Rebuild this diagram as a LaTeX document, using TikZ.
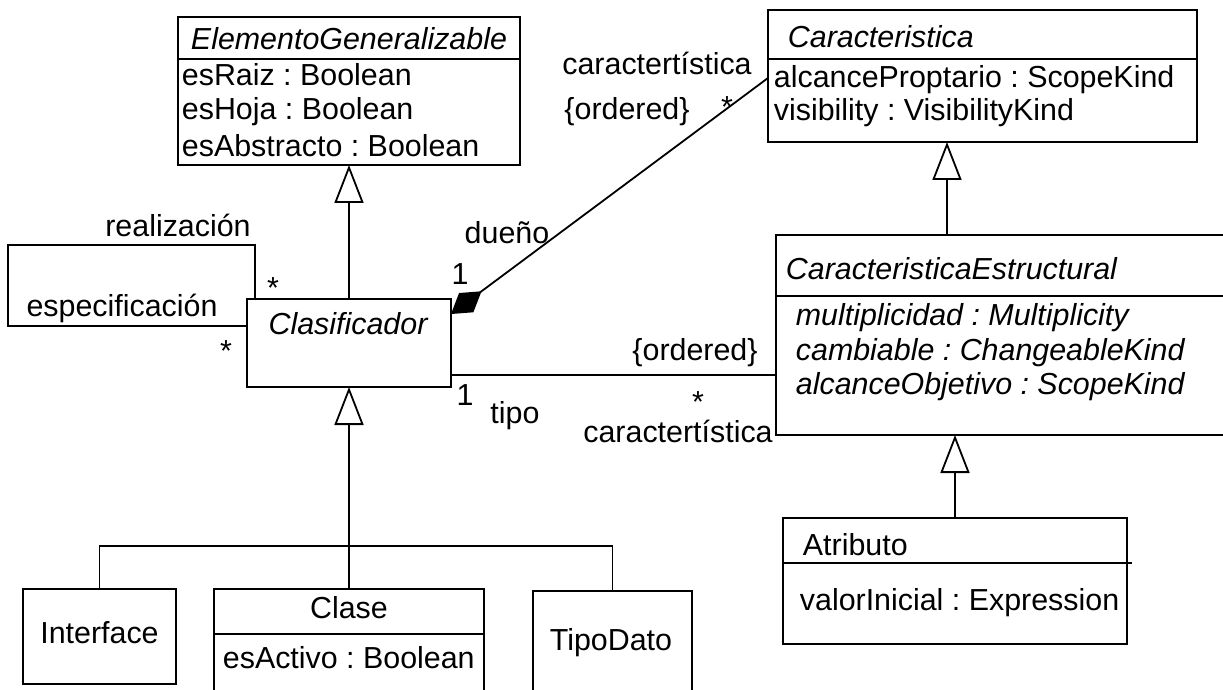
\documentclass[tikz,border=0pt]{standalone}
\usepackage{fontspec}
\setmainfont{Liberation Sans}
\usetikzlibrary{arrows.meta}

\tikzset{
  cls/.style={draw, rectangle, inner sep=0pt, outer sep=0pt},
  txt/.style={inner sep=0pt, anchor=base, font=\fontsize{15.2}{18}\selectfont},
  gen/.style={-{Triangle[open, length=19pt, width=14.5pt]}},
  comp/.style={-{Diamond[length=19pt, width=12pt]}},
}

\begin{document}
\frenchspacing
\begin{tikzpicture}[x=0.5pt, y=-0.5pt, line width=0.9pt]
\useasboundingbox (0,0) rectangle (1223,690);
\clip (0,0) rectangle (1223,690);

\node [cls, minimum width=171pt, minimum height=74pt] (v1) at (349,91) {};
\node [cls, minimum width=214.5pt, minimum height=66pt] (v2) at (982.5,76) {};
\node [cls, minimum width=102pt, minimum height=44pt] (v3) at (349,343) {};
\node [cls, minimum width=227pt, minimum height=100pt] (v4) at (1003,335) {};
\node [cls, minimum width=172pt, minimum height=63pt] (v5) at (955,581) {};
\node [cls, minimum width=76.5pt, minimum height=47.5pt] (v6) at (99.5,636.5) {};
\node [cls, minimum width=135pt, minimum height=65.5pt] (v7) at (349,654.5) {};
\node [cls, minimum width=79.5pt, minimum height=64.5pt] (v8) at (612.5,655.5) {};
\draw  (v1.west |- 0,59) -- (v1.east |- 0,59);
\draw  (v2.west |- 0,59) -- (v2.east |- 0,59);
\draw  (v4.west |- 0,296) -- (v4.east |- 0,296);
\draw  (v5.west |- 0,563) -- (1132,563);
\draw  (v7.west |- 0,634) -- (v7.east |- 0,634);

\node [txt] (t1) at (349,50) {\itshape ElementoGeneralizable};
\node [txt, anchor=base west] (t2) at (181,86) {esRaiz : Boolean};
\node [txt, anchor=base west] (t3) at (181,120) {esHoja : Boolean};
\node [txt, anchor=base west] (t4) at (181,157) {esAbstracto : Boolean};
\node [txt, anchor=base west] (t5) at (787,48) {\itshape Caracteristica};
\node [txt, anchor=base west] (t6) at (773,88) {alcanceProptario : ScopeKind};
\node [txt, anchor=base west] (t7) at (773,121) {visibility : VisibilityKind};
\node [txt] (t8) at (348,335) {\itshape Clasificador};
\node [txt, anchor=base west] (t9) at (785,280) {\itshape CaracteristicaEstructural};
\node [txt, anchor=base west] (t10) at (795,326) {\itshape multiplicidad : Multiplicity};
\node [txt, anchor=base west] (t11) at (795,360) {\itshape cambiable : ChangeableKind};
\node [txt, anchor=base west] (t12) at (795,394) {\itshape alcanceObjetivo : ScopeKind};
\node [txt, anchor=base west] (t13) at (802,555) {Atributo};
\node [txt, anchor=base west] (t14) at (799,610) {valorInicial : Expression};
\node [txt] (t15) at (99.5,643) {Interface};
\node [txt] (t16) at (349,618) {Clase};
\node [txt, anchor=base west] (t17) at (222,668) {esActivo : Boolean};
\node [txt] (t18) at (611,650) {TipoDato};

\node [txt] (l1) at (178,237) {realización};
\node [txt] (l2) at (273,299) {*};
\node [txt] (l3) at (122,317) {especificación};
\node [txt] (l4) at (226,362) {*};
\node [txt] (l5) at (507,243) {dueño};
\node [txt] (l6) at (460,285) {1};
\node [txt] (l7) at (695,360) {\{ordered\}};
\node [txt] (l8) at (465,405) {1};
\node [txt] (l9) at (515,423) {tipo};
\node [txt] (l10) at (698,413) {*};
\node [txt] (l11) at (678,442) {caractertística};
\node [txt] (l12) at (657,75) {caractertística};
\node [txt] (l13) at (627,120) {\{ordered\}};
\node [txt] (l14) at (727,118) {*};

\coordinate (c1) at (8,245);
\coordinate (c2) at (947,0);
\coordinate (c3) at (349,546);
\draw  ([xshift=4pt]v3.north west) |- (c1) |- (v3.west |- 0,326);
\draw [gen] (v3) -- (v1);
\draw [gen] (v7) -- (v3);
\draw [gen] (v5.north) -- (v5.north |- v4.south);
\draw [gen] (v4.north -| c2) -- (v2.south -| c2);
\draw  (v6.north) |- (c3) -| (v8.north);
\draw  (v3.east |- 0,375) -- (v4.west |- 0,375);
\draw [comp] (v2.west |- 0,78) -- (v3.east |- 0,314);
\end{tikzpicture}
\end{document}
